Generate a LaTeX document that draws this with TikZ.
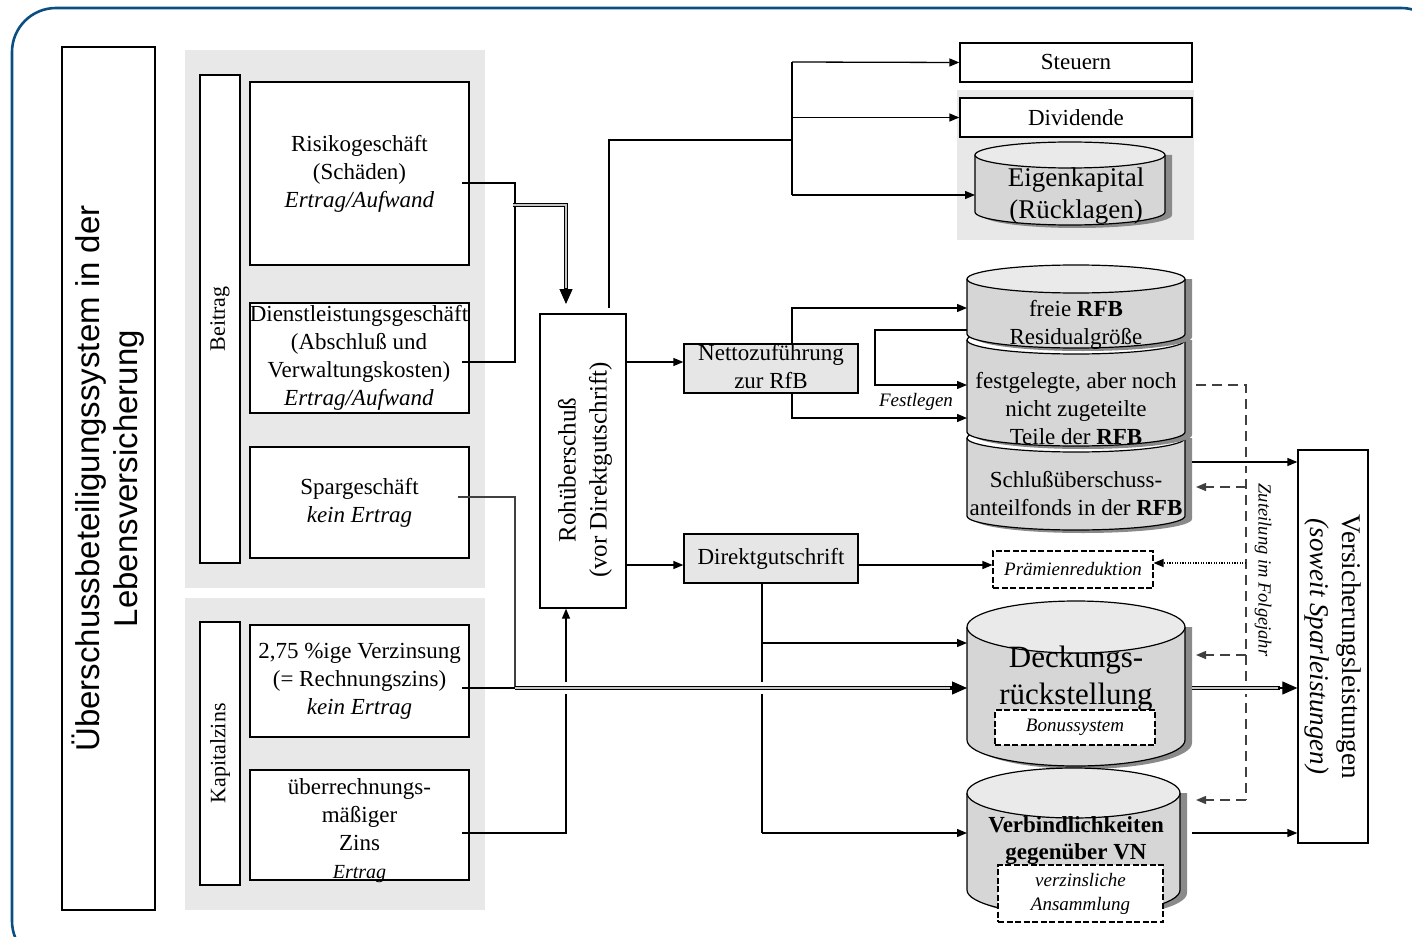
\documentclass[tikz,border=0pt]{standalone}
\usepackage{fontspec}
\setmainfont{Liberation Serif}
\newfontfamily\arialf{Liberation Sans}
\usetikzlibrary{arrows.meta,calc}
\definecolor{frameblue}{HTML}{0B4F82}
\definecolor{panelgray}{HTML}{E8E8E8}
\definecolor{boxgray}{HTML}{E6E6E6}
\definecolor{cylbody}{HTML}{D6D6D6}
\definecolor{cyltop}{HTML}{EAEAEA}
\definecolor{cylshadow}{HTML}{8A8A8A}
\newcommand{\fsz}[2]{\fontsize{#1}{#2}\selectfont}
% x1, x2, y top centre, y bottom centre, ry, top fill
\newcommand{\cylin}[6]{%
  \pgfmathsetmacro{\crx}{(#2-#1)/2}%
  \pgfmathsetmacro{\ccx}{(#1+#2)/2}%
  \fill[cylshadow] (#1+7,#3) -- (#1+7,#4+3) arc[start angle=180,end angle=360,x radius=\crx pt,y radius=#5 pt] -- (#2+7,#3) -- cycle;
  \filldraw[fill=cylbody, line width=1.2pt] (#1,#3) -- (#1,#4) arc[start angle=180,end angle=360,x radius=\crx pt,y radius=#5 pt] -- (#2,#3);
  \filldraw[fill=#6, line width=1.2pt] (\ccx,#3) ellipse[x radius=\crx pt, y radius=#5 pt];
}
\begin{document}
\begin{tikzpicture}[x=1pt,y=-1pt,
  rbox/.style={draw, line width=1.3pt, fill=white, inner sep=0pt, align=center, font=\fsz{23}{28}},
  gbox/.style={rbox, fill=boxgray},
  dbox/.style={draw, line width=1.1pt, dash pattern=on 6pt off 2.5pt, fill=white, inner sep=0pt, align=center, font=\fsz{19}{24}\itshape},
  txt/.style={align=center, inner sep=0pt, font=\fsz{23}{28}},
  line/.style={line width=1.3pt},
  arr/.style={line width=1.3pt, -{Triangle[length=10pt,width=8pt]}},
  tip/.style={line width=1.2pt, -{Triangle[length=15pt,width=13pt]}},
  dbl/.style={line width=1.6pt, double=gray!45, double distance=1.6pt},
  dsh/.style={line width=1.3pt, black!75, dash pattern=on 10pt off 6pt},
  dsharr/.style={dsh, -{Triangle[length=10pt,width=8pt]}},
  dotarr/.style={line width=1.2pt, dash pattern=on 1.3pt off 1.3pt, -{Triangle[length=10pt,width=8pt]}}
]
\useasboundingbox (0,0) rectangle (1412,936);
\begin{scope}
  \clip (0,0) rectangle (1412,936);
  \draw[frameblue, line width=2.6pt, rounded corners=44pt] (12,8) rectangle (1445,965);
\end{scope}

% panels
\fill[panelgray] (185,50) rectangle (485,588);
\fill[panelgray] (185,598) rectangle (485,910);
\fill[panelgray] (957,90) rectangle (1194,240);

% title
\node[rbox, minimum width=93pt, minimum height=863pt] (title) at (108.5,478.5) {};
\node[rotate=90, align=center, font=\arialf\fsz{33}{38}] (titletext) at (title.center) {Überschussbeteiligungssystem in der\\Lebensversicherung};

% left boxes
\node[rbox, minimum width=40pt, minimum height=488pt] (beitrag) at (220,319) {};
\node[rotate=90, txt, font=\fsz{22}{26}] (beitragtext) at (beitrag.center) {Beitrag};
\node[rbox, minimum width=219pt, minimum height=183pt] (risiko) at (359.5,173.5) {Risikogeschäft\\(Schäden)\\\textit{Ertrag/Aufwand}};
\node[rbox, minimum width=219pt, minimum height=110pt] (dienst) at (359.5,358) {};
\node[txt] (diensttext) at (359,358) {Dienstleistungsgeschäft\\(Abschluß und\\Verwaltungskosten)\\\textit{Ertrag/Aufwand}};
\node[rbox, minimum width=219pt, minimum height=111pt] (spar) at (359.5,502.5) {Spargeschäft\\\textit{kein Ertrag}};

\node[rbox, minimum width=40pt, minimum height=263pt] (kapital) at (220,753.5) {};
\node[rotate=90, txt, font=\fsz{22}{26}] (kapitaltext) at (kapital.center) {Kapitalzins};
\node[rbox, minimum width=219pt, minimum height=112pt] (zinsa) at (359.5,681) {2,75 \%ige Verzinsung\\(= Rechnungszins)\\\textit{kein Ertrag}};
\node[rbox, minimum width=219pt, minimum height=110pt] (zinsb) at (359.5,825) {};
\node[txt] (zinsbtext) at (359.5,831) {überrechnungs-\\mäßiger\\Zins\\\textit{\fsz{20}{26}Ertrag}};

% centre boxes
\node[rbox, minimum width=86pt, minimum height=294pt] (roh) at (583,461) {};
\node[rotate=90, txt, font=\fsz{25}{31}] (rohtext) at (585,470) {Rohüberschuß\\(vor Direktgutschrift)};
\node[gbox, minimum width=174pt, minimum height=49pt] (netto) at (771,368.5) {};
\node[txt] (nettotext) at (771,367) {Nettozuführung\\zur RfB};
\node[gbox, minimum width=174pt, minimum height=49pt] (direkt) at (771,558.5) {Direktgutschrift};

% top right
\node[rbox, minimum width=232pt, minimum height=39pt] (steuern) at (1076,62.5) {Steuern};
\node[rbox, minimum width=232pt, minimum height=39pt] (dividende) at (1076,117.5) {Dividende};

% cylinders
\cylin{975}{1165}{155}{212}{13}{cyltop}
\cylin{967}{1185}{438}{516}{14}{white}
\cylin{967}{1185}{340}{432}{14}{white}
\cylin{967}{1185}{279}{334}{14}{cyltop}
\cylin{967}{1185}{627}{740}{26}{cyltop}
\cylin{967}{1180}{793}{890}{25}{cyltop}

\node[txt, font=\fsz{27}{32}] (eigen) at (1076,196) {Eigenkapital\\(Rücklagen)};
\node[txt] (freie) at (1076,325) {freie \textbf{RFB}\\Residualgröße};
\node[txt] (festg) at (1076,409) {festgelegte, aber noch\\nicht zugeteilte\\Teile der \textbf{RFB}};
\node[txt] (schluss) at (1076,494) {Schlußüberschuss-\\anteilfonds in der \textbf{RFB}};
\node[txt, font=\fsz{31}{37}] (deckung) at (1076,679) {Deckungs-\\rückstellung};
\node[dbox, minimum width=160pt, minimum height=35pt] (bonus) at (1075,727.5) {Bonussystem};
\node[txt, font=\fsz{23}{27}\bfseries] (verb) at (1076,841) {Verbindlichkeiten\\gegenüber VN};
\node[dbox, minimum width=165pt, minimum height=57pt] (ansamml) at (1080.5,893.5) {verzinsliche\\Ansammlung};
\node[dbox, minimum width=160pt, minimum height=37pt] (praemie) at (1073,569.5) {Prämienreduktion};

% right box
\node[rbox, minimum width=70pt, minimum height=393pt] (versl) at (1333,646.5) {};
\node[rotate=-90, txt, font=\fsz{27}{32}] (versltext) at (versl.center) {Versicherungsleistungen\\\textit{(soweit Sparleistungen)}};

% labels
\node[txt, font=\fsz{19}{22}\itshape] (festlegen) at (916,402) {Festlegen};
\node[rotate=-90, txt, font=\fsz{18.5}{20}\itshape] (zuteil) at (1263,570) {Zuteilung im Folgejahr};

% coordinates on cylinder sides
\coordinate (eigenIn) at (975,195);
\coordinate (freieIn) at (967,308);
\coordinate (freieOut) at (967,330);
\coordinate (festgIn1) at (967,385);
\coordinate (festgIn2) at (967,418);
\coordinate (festgOut) at (1196,385);
\coordinate (schlussIn) at (1196,487);
\coordinate (schlussOut) at (1192,462);
\coordinate (deckIn1) at (967,643);
\coordinate (deckIn2) at (967,688);
\coordinate (deckIn3) at (1196,655);
\coordinate (deckOut) at (1192,688);
\coordinate (verbIn1) at (967,833);
\coordinate (verbIn2) at (1196,800);
\coordinate (verbOut) at (1192,833);

% Risiko / Dienst -> Roh
\draw[line] (462,183) -| (515,362) -- (462,362);
\draw[dbl] (513,205) -| (566,290);
\draw[tip] (566,288) -- (566,304);

% Roh -> Steuern, Dividende, Eigenkapital
\draw[line] (609,308) |- (792,140);
\draw[line] (792,62) -- (792,195);
\draw[arr] (792,62) -- (steuern.west);
\draw[arr] (792,117.5) -- (dividende.west);
\draw[arr] (792,195) -- (eigenIn);

% Roh -> Netto, Direkt
\draw[arr] (626,362) -- (netto.west |- 0,362);
\draw[arr] (626,565) -- (direkt.west |- 0,565);

% Netto -> RFB
\draw[arr] (792,344) |- (freieIn);
\draw[arr] (792,393) |- (festgIn2);
\draw[arr] (freieOut) -- (875,330) -- (875,385) -- (festgIn1);

% Direkt
\draw[arr] (858,565) -- (praemie.west |- 0,565);
\draw[line] (762,583) -- (762,833);
\draw[arr] (762,643) -- (deckIn1);
\draw[arr] (762,833) -- (verbIn1);

% Kapitalzins
\draw[arr] (462,833) -| (roh.south -| 566,0);
\draw[line, black!75] (458,497) -| (515,688);
\draw[line] (462,688) -- (515,688);
\draw[white, line width=12pt] (525,688) -- (945,688);
\draw[dbl] (515,688) -- (953,688);
\draw[tip] (950,688) -- (deckIn2);

% dashed Zuteilung
\draw[dsh] (festgOut) -| (1246,800);
\draw[dsharr] (1246,800) -- (verbIn2);
\draw[dsharr] (1246,487) -- (schlussIn);
\draw[dsharr] (1246,655) -- (deckIn3);
\draw[dotarr] (1246,563) -- (praemie.east |- 0,563);

% to Versicherungsleistungen
\draw[white, line width=8pt] (1236,462) -- (1256,462);
\draw[arr] (schlussOut) -- (versl.west |- 0,462);
\draw[white, line width=12pt] (1236,688) -- (1256,688);
\draw[dbl] (deckOut) -- (1280,688);
\draw[tip] (1278,688) -- (versl.west |- 0,688);
\draw[arr] (verbOut) -- (versl.west |- 0,833);
\end{tikzpicture}
\end{document}
